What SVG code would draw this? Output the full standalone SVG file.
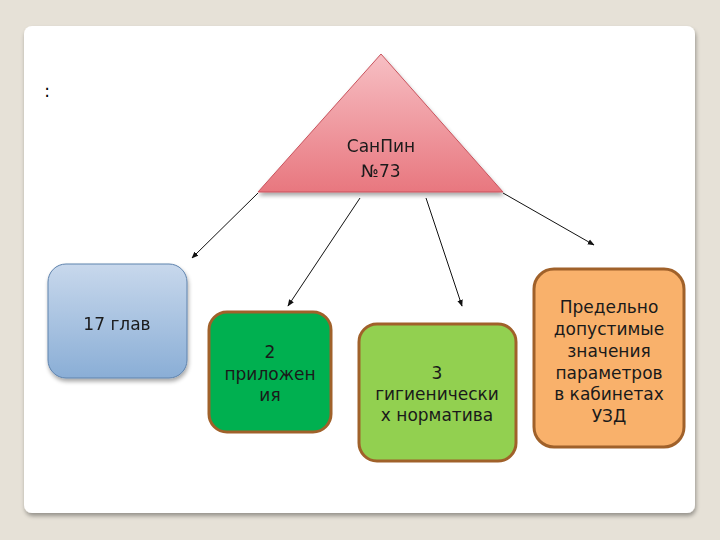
<svg xmlns="http://www.w3.org/2000/svg" width="720" height="540" viewBox="0 0 720 540">
<defs>
<style>
text{font-family:"DejaVu Sans","Noto Sans",sans-serif;font-size:17px;fill:#1a1a1a;text-anchor:middle}
.box{stroke:#a0612a;stroke-width:3}
.conn line{stroke:#111;stroke-width:1}
</style>
<linearGradient id="tri" x1="0" y1="0" x2="0" y2="1">
<stop offset="0" stop-color="#f7bfc4"/><stop offset="1" stop-color="#e8777f"/>
</linearGradient>
<linearGradient id="blue" x1="0" y1="0" x2="0" y2="1">
<stop offset="0" stop-color="#c8d8ec"/><stop offset="1" stop-color="#8aaed6"/>
</linearGradient>
<filter id="sh" x="-10%" y="-10%" width="130%" height="130%">
<feGaussianBlur in="SourceAlpha" stdDeviation="2"/><feOffset dx="1" dy="3"/>
<feComponentTransfer><feFuncA type="linear" slope="0.35"/></feComponentTransfer>
<feMerge><feMergeNode/><feMergeNode in="SourceGraphic"/></feMerge>
</filter>
<marker id="ah" viewBox="0 0 10 10" refX="9" refY="5" markerWidth="7" markerHeight="7" orient="auto" markerUnits="userSpaceOnUse">
<path d="M0,1 L10,5 L0,9 z" fill="#111"/>
</marker>
</defs>
<rect width="720" height="540" fill="#e6e1d7"/>
<rect x="24" y="26" width="671" height="487" rx="8" fill="#ffffff" filter="url(#sh)"/>
<text x="47" y="97" style="fill:#000">:</text>
<g id="sanpin" filter="url(#sh)">
<polygon points="381,54 503,192 258,192" fill="url(#tri)" stroke="#c9535d" stroke-width="1"/>
<text x="381" y="152">СанПин</text>
<text x="381" y="177">№73</text>
</g>
<g class="conn">
<line x1="258" y1="193" x2="192" y2="258" marker-end="url(#ah)"/>
<line x1="360" y1="198" x2="288" y2="306" marker-end="url(#ah)"/>
<line x1="426" y1="198" x2="462" y2="306" marker-end="url(#ah)"/>
<line x1="503" y1="193" x2="594" y2="245" marker-end="url(#ah)"/>
</g>
<g id="glav" filter="url(#sh)">
<rect x="48" y="264" width="139" height="114" rx="18" fill="url(#blue)" stroke="#5f83ad" stroke-width="1"/>
<text x="117" y="330">17 глав</text>
</g>
<g id="pril">
<rect x="209" y="312" width="122" height="120" rx="18" fill="#00b050" class="box"/>
<text x="270" y="358">2</text>
<text x="270" y="380">приложен</text>
<text x="270" y="401">ия</text>
</g>
<g id="gig">
<rect x="359" y="324" width="157" height="137" rx="18" fill="#92d050" class="box"/>
<text x="437" y="379">3</text>
<text x="437" y="400">гигиенически</text>
<text x="437" y="421">х норматива</text>
</g>
<g id="pdk">
<rect x="534" y="269" width="150" height="178" rx="20" fill="#f9b16b" class="box"/>
<text x="609" y="313">Предельно</text>
<text x="609" y="335">допустимые</text>
<text x="609" y="357">значения</text>
<text x="609" y="379">параметров</text>
<text x="609" y="400">в кабинетах</text>
<text x="609" y="422">УЗД</text>
</g>
</svg>
